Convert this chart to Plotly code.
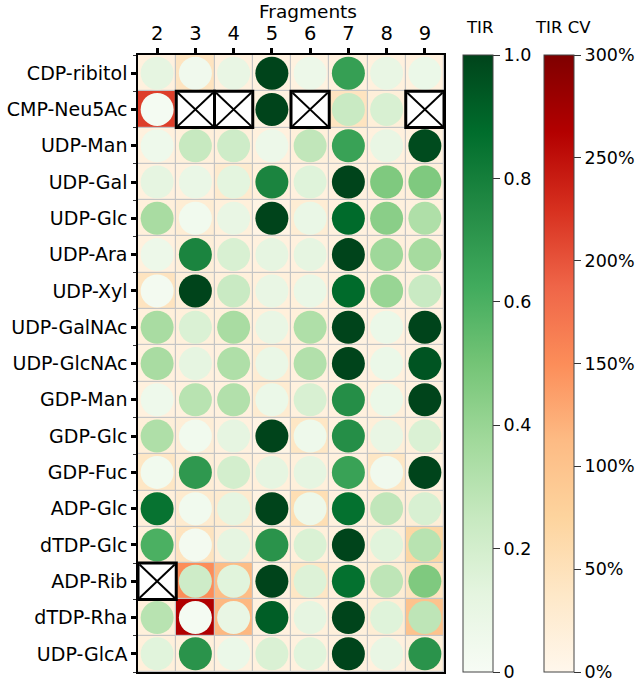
import plotly.graph_objects as go

fragments = ["2", "3", "4", "5", "6", "7", "8", "9"]
sugars = ["CDP-ribitol", "CMP-Neu5Ac", "UDP-Man", "UDP-Gal", "UDP-Glc", "UDP-Ara",
          "UDP-Xyl", "UDP-GalNAc", "UDP-GlcNAc", "GDP-Man", "GDP-Glc", "GDP-Fuc",
          "ADP-Glc", "dTDP-Glc", "ADP-Rib", "dTDP-Rha", "UDP-GlcA"]

# TIR (circle colour), None = not measured
tir = [
    [0.12, 0.05, 0.10, 1.00, 0.07, 0.67, 0.10, 0.08],
    [0.02, None, None, 1.00, None, 0.24, 0.18, None],
    [0.06, 0.25, 0.22, 0.07, 0.27, 0.66, 0.10, 0.98],
    [0.12, 0.09, 0.13, 0.78, 0.15, 1.00, 0.47, 0.47],
    [0.35, 0.04, 0.10, 1.00, 0.09, 0.88, 0.44, 0.33],
    [0.07, 0.78, 0.18, 0.12, 0.12, 1.00, 0.38, 0.36],
    [0.03, 1.00, 0.24, 0.10, 0.09, 0.88, 0.40, 0.24],
    [0.35, 0.17, 0.35, 0.10, 0.33, 1.00, 0.08, 1.00],
    [0.35, 0.12, 0.33, 0.09, 0.32, 1.00, 0.08, 0.95],
    [0.06, 0.30, 0.32, 0.08, 0.18, 0.74, 0.08, 1.00],
    [0.33, 0.04, 0.12, 1.00, 0.06, 0.74, 0.10, 0.17],
    [0.04, 0.70, 0.20, 0.12, 0.12, 0.66, 0.05, 1.00],
    [0.85, 0.04, 0.12, 1.00, 0.07, 0.86, 0.27, 0.18],
    [0.60, 0.03, 0.12, 0.72, 0.17, 1.00, 0.14, 0.30],
    [None, 0.22, 0.14, 1.00, 0.16, 0.86, 0.28, 0.47],
    [0.30, 0.02, 0.10, 0.92, 0.12, 1.00, 0.15, 0.28],
    [0.14, 0.72, 0.08, 0.17, 0.14, 1.00, 0.10, 0.72],
]

# TIR CV in percent (cell background)
tir_cv = [
    [15, 45, 15, 12, 12, 15, 15, 15],
    [215, None, None, 12, None, 45, 20, None],
    [15, 18, 18, 15, 18, 18, 15, 15],
    [15, 15, 30, 18, 15, 15, 18, 18],
    [18, 25, 18, 8, 25, 15, 15, 15],
    [15, 20, 15, 15, 15, 15, 18, 15],
    [45, 20, 18, 18, 18, 15, 15, 15],
    [18, 18, 18, 18, 18, 12, 15, 12],
    [15, 15, 15, 25, 15, 12, 15, 12],
    [15, 15, 15, 28, 15, 15, 18, 12],
    [20, 22, 15, 8, 40, 15, 20, 18],
    [40, 22, 18, 18, 18, 15, 40, 12],
    [18, 30, 30, 10, 55, 15, 20, 22],
    [18, 45, 22, 18, 18, 15, 20, 70],
    [None, 150, 110, 12, 40, 18, 25, 45],
    [18, 265, 115, 15, 18, 18, 25, 100],
    [18, 18, 15, 15, 15, 15, 15, 20],
]

tir_ticks = [0, 0.2, 0.4, 0.6, 0.8, 1.0]
tir_ticktext = ["0", "0.2", "0.4", "0.6", "0.8", "1.0"]
cv_ticks = [0, 50, 100, 150, 200, 250, 300]
cv_ticktext = ["0%", "50%", "100%", "150%", "200%", "250%", "300%"]

greens = ["#f7fcf5", "#e5f5e0", "#c7e9c0", "#a1d99b", "#74c476", "#41ab5d", "#238b45", "#006d2c", "#00441b"]
orrd = ["#fff7ec", "#fee8c8", "#fdd49e", "#fdbb84", "#fc8d59", "#ef6548", "#d7301f", "#b30000", "#7f0000"]
greens_cs = [[i / 8, c] for i, c in enumerate(greens)]
orrd_cs = [[i / 8, c] for i, c in enumerate(orrd)]

W, H = 644, 681
ML, MR, MT, MB = 138, 2, 55, 9
pw = W - ML - MR
ph = H - MT - MB
FONT = "DejaVu Sans"


def px_x(page_x):
    return (page_x - ML) / pw


def px_y(page_y):
    return (H - MB - page_y) / ph


xi = list(range(len(fragments)))
yi = list(range(len(sugars)))

cb_common = dict(
    ticks="outside", ticklen=7, tickcolor="#333", tickwidth=1,
    tickfont=dict(size=17.5, family=FONT, color="black"),
    ticklabeloverflow="allow",
    thickness=30, thicknessmode="pixels",
    len=1, lenmode="fraction", y=0, yanchor="bottom",
    xanchor="left", xpad=0, ypad=0,
    outlinecolor="#444", outlinewidth=1,
)

fig = go.Figure()

fig.add_trace(go.Heatmap(
    x=xi, y=yi, z=tir_cv, zmin=0, zmax=300, colorscale=orrd_cs,
    xgap=1.2, ygap=1.2, hoverongaps=False,
    colorbar=dict(tickvals=cv_ticks, ticktext=cv_ticktext, x=px_x(544), **cb_common),
))

px_, py_, pc_ = [], [], []
for r, row in enumerate(tir):
    for c, v in enumerate(row):
        if v is not None:
            px_.append(c)
            py_.append(r)
            pc_.append(v)

fig.add_trace(go.Scatter(
    x=px_, y=py_, mode="markers", hoverinfo="skip",
    marker=dict(
        size=33, color=pc_, cmin=0, cmax=1, colorscale=greens_cs,
        line=dict(width=0),
        colorbar=dict(tickvals=tir_ticks, ticktext=tir_ticktext, x=px_x(463), **cb_common),
    ),
))

# crossed boxes where TIR is missing
shapes = []
for r, row in enumerate(tir):
    for c, v in enumerate(row):
        if v is None:
            shapes.append(dict(type="rect", xref="x", yref="y",
                               x0=c - 0.5, x1=c + 0.5, y0=r - 0.5, y1=r + 0.5,
                               fillcolor="white", line=dict(color="black", width=3), layer="above"))
            shapes.append(dict(type="line", xref="x", yref="y",
                               x0=c - 0.46, x1=c + 0.46, y0=r - 0.46, y1=r + 0.46,
                               line=dict(color="black", width=2), layer="above"))
            shapes.append(dict(type="line", xref="x", yref="y",
                               x0=c - 0.46, x1=c + 0.46, y0=r + 0.46, y1=r - 0.46,
                               line=dict(color="black", width=2), layer="above"))

annotations = [
    dict(text="Fragments", xref="paper", yref="paper", x=px_x(308), y=px_y(11),
         xanchor="center", yanchor="middle", showarrow=False,
         font=dict(size=18.5, family=FONT, color="black")),
    dict(text="TIR", xref="paper", yref="paper", x=px_x(479), y=px_y(28),
         xanchor="center", yanchor="middle", showarrow=False,
         font=dict(size=16.5, family=FONT, color="black")),
    dict(text="TIR CV", xref="paper", yref="paper", x=px_x(563), y=px_y(28),
         xanchor="center", yanchor="middle", showarrow=False,
         font=dict(size=16.5, family=FONT, color="black")),
]

fig.update_layout(
    width=W, height=H,
    margin=dict(l=ML, r=MR, t=MT, b=MB, autoexpand=False),
    paper_bgcolor="white", plot_bgcolor="#c4c4c4",
    showlegend=False,
    shapes=shapes,
    annotations=annotations,
    font=dict(family=FONT, color="black"),
    xaxis=dict(
        domain=[0, px_x(444)], range=[-0.5, 7.5],
        side="top", tickvals=xi, ticktext=fragments,
        ticks="outside", ticklen=5, tickwidth=2.5, tickcolor="black",
        tickfont=dict(size=19.5, family=FONT, color="black"),
        showgrid=False, zeroline=False,
        showline=True, linecolor="black", linewidth=1.5, mirror=True,
        fixedrange=True,
    ),
    yaxis=dict(
        domain=[0, 1], range=[len(sugars) - 0.5, -0.5],
        tickvals=yi, ticktext=sugars,
        ticks="outside", ticklen=5, tickwidth=2.5, tickcolor="black",
        tickfont=dict(size=19, family=FONT, color="black"),
        minor=dict(tickmode="linear", tick0=-0.5, dtick=1, ticks="outside", ticklen=3,
                   tickcolor="#333", tickwidth=1, showgrid=False),
        showgrid=False, zeroline=False,
        showline=True, linecolor="black", linewidth=1.5, mirror=True,
        fixedrange=True,
    ),
)

fig.write_html("out.html", config={"displayModeBar": False},
               post_script="document.body.style.margin='0';")
